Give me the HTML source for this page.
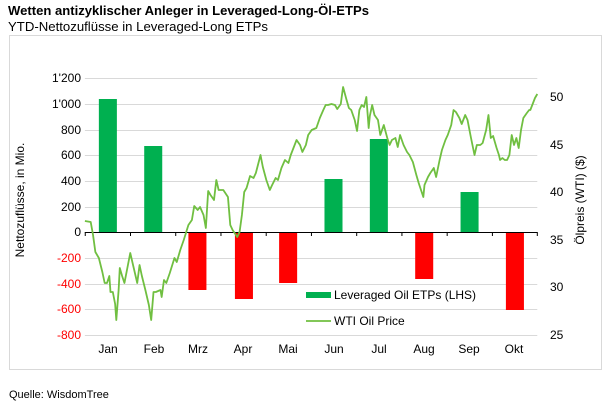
<!DOCTYPE html>
<html><head><meta charset="utf-8"><style>body{margin:0;background:#fff}svg{display:block}text{font-family:"Liberation Sans",Arial,sans-serif}</style></head><body>
<svg width="608" height="401" viewBox="0 0 608 401">
<text x="8" y="15" font-size="13" font-weight="bold" textLength="361" lengthAdjust="spacingAndGlyphs">Wetten antizyklischer Anleger in Leveraged-Long-Öl-ETPs</text>
<text x="8" y="31" font-size="13" textLength="260" lengthAdjust="spacingAndGlyphs">YTD-Nettozuflüsse in Leveraged-Long ETPs</text>
<rect x="9.5" y="35.5" width="592" height="334" fill="none" stroke="#d9d9d9"/>
<g transform="scale(1.163,1)">
<g stroke="#d9d9d9" stroke-width="1" vector-effect="non-scaling-stroke">
<line vector-effect="non-scaling-stroke" x1="73" x2="462" y1="78.5" y2="78.5"/><line vector-effect="non-scaling-stroke" x1="73" x2="462" y1="104.5" y2="104.5"/><line vector-effect="non-scaling-stroke" x1="73" x2="462" y1="130.5" y2="130.5"/><line vector-effect="non-scaling-stroke" x1="73" x2="462" y1="155.5" y2="155.5"/><line vector-effect="non-scaling-stroke" x1="73" x2="462" y1="181.5" y2="181.5"/><line vector-effect="non-scaling-stroke" x1="73" x2="462" y1="207.5" y2="207.5"/><line vector-effect="non-scaling-stroke" x1="73" x2="462" y1="258.5" y2="258.5"/><line vector-effect="non-scaling-stroke" x1="73" x2="462" y1="284.5" y2="284.5"/><line vector-effect="non-scaling-stroke" x1="73" x2="462" y1="309.5" y2="309.5"/><line vector-effect="non-scaling-stroke" x1="73" x2="462" y1="335.5" y2="335.5"/>
</g>
<g fill="#00b050">
<rect x="85" y="99" width="15.5" height="133"/><rect x="124" y="146" width="15.5" height="86"/><rect x="279" y="179" width="15.5" height="53"/><rect x="318" y="139" width="15.5" height="93"/><rect x="396" y="192" width="15.5" height="40"/>
</g>
<g fill="#ff0000">
<rect x="162" y="232" width="15.5" height="58"/><rect x="202" y="232" width="15.5" height="67"/><rect x="240" y="232" width="15.5" height="51"/><rect x="357" y="232" width="15.5" height="47"/><rect x="435" y="232" width="15.5" height="78"/>
</g>
<g stroke="#000" stroke-width="1"><line vector-effect="non-scaling-stroke" x1="73" x2="462" y1="232.5" y2="232.5"/>
<line vector-effect="non-scaling-stroke" x1="73.3" x2="73.3" y1="232" y2="236"/><line vector-effect="non-scaling-stroke" x1="112.2" x2="112.2" y1="232" y2="236"/><line vector-effect="non-scaling-stroke" x1="151.1" x2="151.1" y1="232" y2="236"/><line vector-effect="non-scaling-stroke" x1="190" x2="190" y1="232" y2="236"/><line vector-effect="non-scaling-stroke" x1="228.9" x2="228.9" y1="232" y2="236"/><line vector-effect="non-scaling-stroke" x1="267.8" x2="267.8" y1="232" y2="236"/><line vector-effect="non-scaling-stroke" x1="306.7" x2="306.7" y1="232" y2="236"/><line vector-effect="non-scaling-stroke" x1="345.6" x2="345.6" y1="232" y2="236"/><line vector-effect="non-scaling-stroke" x1="384.5" x2="384.5" y1="232" y2="236"/><line vector-effect="non-scaling-stroke" x1="423.4" x2="423.4" y1="232" y2="236"/><line vector-effect="non-scaling-stroke" x1="462" x2="462" y1="232" y2="236"/></g>
<polyline vector-effect="non-scaling-stroke" fill="none" stroke="#70bf41" stroke-width="1.8" stroke-linejoin="round" points="73,221 78,222 80,235 82,252 85,258 88,272 90,283 92,283 94,276 95,292 97,292 99,304 100,320 102,290 103,268 105,276 107,283 110,265 112,253 115,268 118,283 120,265 122,276 125,290 128,305 130,320 132,292 134,292 138,290 139,297 141,280 143,283 146,273 150,258 152,262 155,250 158,240 162,225 165,220 167,206 170,210 172,207 175,215 177,228 179,191 181,195 184,200 186,180 188,190 192,190 196,197 198,225 200,230 204,237 206,232 208,215 210,192 212,188 215,176 218,178 220,173 224,155 226,167 229,180 232,190 234,185 237,178 239,180 242,168 245,160 248,163 250,155 253,146 255,140 258,145 260,152 263,145 265,135 268,130 272,128 275,118 278,110 280,105 282,105 285,104 288,105 290,109 293,104 295,87 298,100 300,108 302,110 305,120 307,131 309,110 311,105 313,107 315,97 317,128 318,116 320,105 322,115 325,120 327,135 330,125 333,138 335,145 337,140 340,138 342,147 344,135 347,145 350,152 352,155 355,162 358,175 360,183 362,190 364,197 365,185 368,177 370,173 373,168 375,177 378,160 380,150 383,140 385,135 388,125 390,110 392,112 395,118 397,124 400,115 402,120 405,138 408,155 410,145 413,145 415,143 418,130 420,115 422,138 424,136 427,148 429,155 430,160 432,158 434,160 436,160 438,155 440,135 442,145 444,138 446,148 448,130 450,118 453,113 455,110 456,110 458,104 460,98 462,94"/>
</g>
<g font-size="12" text-anchor="end">
<text x="81" y="82">1'200</text><text x="81" y="108">1'000</text><text x="81" y="134">800</text><text x="81" y="159">600</text><text x="81" y="185">400</text><text x="81" y="211">200</text><text x="81" y="236">0</text>
<g fill="#ff0000"><text x="81" y="262">-200</text><text x="81" y="288">-400</text><text x="81" y="313">-600</text><text x="81" y="339">-800</text></g>
</g>
<g font-size="12"><text x="550" y="101">50</text><text x="550" y="149">45</text><text x="550" y="196">40</text><text x="550" y="244">35</text><text x="550" y="291">30</text><text x="550" y="339">25</text></g>
<g font-size="12" text-anchor="middle">
<text x="108" y="353">Jan</text><text x="154" y="353">Feb</text><text x="198" y="353">Mrz</text><text x="243" y="353">Apr</text><text x="288" y="353">Mai</text><text x="334" y="353">Jun</text><text x="379" y="353">Jul</text><text x="424" y="353">Aug</text><text x="469" y="353">Sep</text><text x="514" y="353">Okt</text>
</g>
<text transform="translate(24,200) rotate(-90)" font-size="12" text-anchor="middle">Nettozuflüsse, in Mio.</text>
<text transform="translate(584,200) rotate(-90)" font-size="12" text-anchor="middle">Ölpreis (WTI) ($)</text>
<rect x="306" y="292" width="25" height="6" fill="#00b050"/>
<text x="334" y="299" font-size="12">Leveraged Oil ETPs (LHS)</text>
<line x1="306" x2="331" y1="321" y2="321" stroke="#70bf41" stroke-width="1.8"/>
<text x="334" y="325" font-size="12">WTI Oil Price</text>
<text x="9" y="398" font-size="11">Quelle: WisdomTree</text>
</svg>
</body></html>
